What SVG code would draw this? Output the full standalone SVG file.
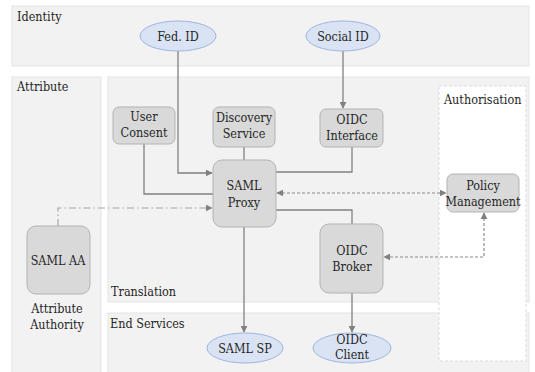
<svg xmlns="http://www.w3.org/2000/svg" width="535" height="372" viewBox="0 0 535 372">
<defs>
<style>
.band{fill:#f2f2f2;stroke:#e4e4e4;stroke-width:1}
.lbl{font-family:"DejaVu Serif Condensed","DejaVu Serif",serif;font-stretch:condensed;font-size:12.5px;fill:#262626}
.box{fill:#d9d9d9;stroke:#b3b3b3;stroke-width:1}
.ell{fill:#dae3f3;stroke:#9db5df;stroke-width:1}
.t{font-family:"DejaVu Serif Condensed","DejaVu Serif",serif;font-stretch:condensed;font-size:12.5px;fill:#262626;text-anchor:middle}
.c{fill:none;stroke:#808080;stroke-width:1.3}
.d{fill:none;stroke:#8a8a8a;stroke-width:1.2;stroke-dasharray:3,2}
.dd{fill:none;stroke:#a6a6a6;stroke-width:1.2;stroke-dasharray:7,3,1.5,3}
</style>
<marker id="a" viewBox="0 0 10 10" refX="9" refY="5" markerWidth="7" markerHeight="7" orient="auto-start-reverse" markerUnits="userSpaceOnUse"><path d="M0,0L10,5L0,10z" fill="#808080"/></marker>
</defs>
<rect width="535" height="372" fill="#ffffff"/>
<g id="bands">
<rect class="band" x="12" y="6" width="517" height="60"/>
<rect class="band" x="12" y="77" width="89" height="300"/>
<rect class="band" x="108" y="77" width="421" height="225"/>
<rect class="band" x="108" y="313" width="421" height="64"/>
<rect x="439" y="86" width="87" height="275" fill="#ffffff" stroke="#dcdcdc" stroke-dasharray="3,2"/>
<text class="lbl" x="17" y="21">Identity</text>
<text class="lbl" x="17" y="91">Attribute</text>
<text class="lbl" x="444" y="104">Authorisation</text>
<text class="lbl" x="111" y="296">Translation</text>
<text class="lbl" x="110" y="328">End Services</text>
<text class="lbl" x="57" y="313" text-anchor="middle">Attribute</text>
<text class="lbl" x="57" y="329" text-anchor="middle">Authority</text>
</g>
<g id="connectors">
<path class="c" d="M178,51V173H212" marker-end="url(#a)"/>
<path class="c" d="M343,51V108" marker-end="url(#a)"/>
<path class="c" d="M144,144V194H213"/>
<path class="c" d="M244,147V160"/>
<path class="c" d="M352,147V172H276"/>
<path class="d" d="M277,193H446" marker-start="url(#a)" marker-end="url(#a)"/>
<path class="c" d="M276,210H352V224"/>
<path class="dd" d="M58,226V208H212" marker-end="url(#a)"/>
<path class="c" d="M244,227V332" marker-end="url(#a)"/>
<path class="d" d="M484,213V257H384" marker-start="url(#a)" marker-end="url(#a)"/>
<path class="c" d="M352,293V332" marker-end="url(#a)"/>
</g>
<g id="fed-id"><ellipse class="ell" cx="178" cy="36" rx="38" ry="15"/><text class="t" x="178" y="41">Fed. ID</text></g>
<g id="social-id"><ellipse class="ell" cx="343" cy="36" rx="37" ry="15"/><text class="t" x="343" y="41">Social ID</text></g>
<g id="user-consent"><rect class="box" x="113" y="107" width="62" height="37" rx="6"/><text class="t" x="144" y="121">User</text><text class="t" x="144" y="137">Consent</text></g>
<g id="discovery"><rect class="box" x="213" y="107" width="62" height="40" rx="6"/><text class="t" x="244" y="122">Discovery</text><text class="t" x="244" y="138">Service</text></g>
<g id="oidc-interface"><rect class="box" x="320" y="109" width="63" height="38" rx="6"/><text class="t" x="352" y="124">OIDC</text><text class="t" x="352" y="140">Interface</text></g>
<g id="saml-proxy"><rect class="box" x="213" y="160" width="63" height="67" rx="9"/><text class="t" x="244" y="190">SAML</text><text class="t" x="244" y="207">Proxy</text></g>
<g id="policy"><rect class="box" x="447" y="174" width="72" height="38" rx="6"/><text class="t" x="483" y="190">Policy</text><text class="t" x="483" y="206">Management</text></g>
<g id="oidc-broker"><rect class="box" x="320" y="224" width="63" height="69" rx="9"/><text class="t" x="352" y="255">OIDC</text><text class="t" x="352" y="271">Broker</text></g>
<g id="saml-aa"><rect class="box" x="27" y="226" width="63" height="68" rx="9"/><text class="t" x="58" y="265">SAML AA</text></g>
<g id="saml-sp"><ellipse class="ell" cx="245" cy="348" rx="38" ry="15"/><text class="t" x="245" y="353">SAML SP</text></g>
<g id="oidc-client"><ellipse class="ell" cx="352" cy="348" rx="39" ry="15"/><text class="t" x="352" y="344">OIDC</text><text class="t" x="352" y="359">Client</text></g>
</svg>
